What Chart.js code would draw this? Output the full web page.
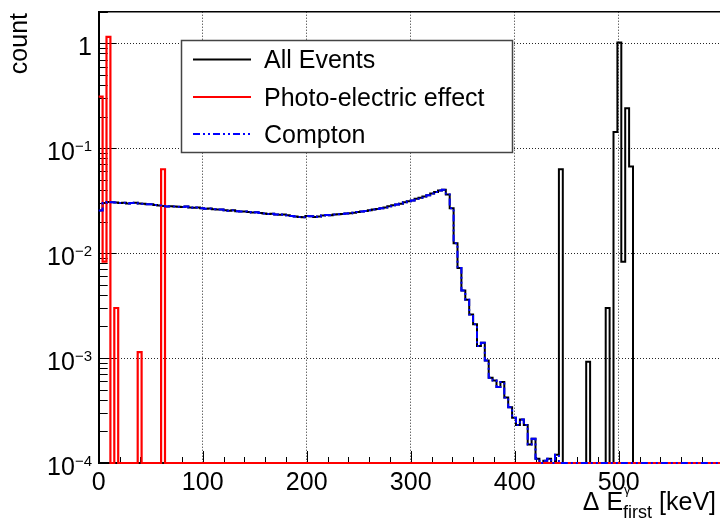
<!DOCTYPE html>
<html>
<head>
<meta charset="utf-8">
<script src="https://cdn.jsdelivr.net/npm/chart.js@4.4.1/dist/chart.umd.min.js"></script>
<style>
    html, body { margin: 0; padding: 0; background: #fff; overflow: hidden; }
    #wrap { position: relative; width: 720px; height: 521px; }
</style>
</head>
<body>
<div id="wrap"><canvas id="histChart"></canvas></div>
<script>
// binning of the histogram (keV)
const binWidth = 3.75;
const nBins = 160;

// Compton part, per bin from 0 keV (bins after the list are empty)
const comptonCounts = [
    0.0255, 0.0300, 0.0308, 0.0306, 0.0304, 0.0301, 0.0303, 0.0298, 0.0300, 0.0302,
    0.0297, 0.0295, 0.0292, 0.0293, 0.0288, 0.0285, 0.0282, 0.0279, 0.0280, 0.0279,
    0.0277, 0.0276, 0.0278, 0.0273, 0.0271, 0.0272, 0.0268, 0.0265, 0.0266, 0.0262,
    0.0260, 0.0261, 0.0257, 0.0254, 0.0256, 0.0251, 0.0249, 0.0250, 0.0246, 0.0244,
    0.0245, 0.0241, 0.0239, 0.0236, 0.0237, 0.0234, 0.0232, 0.0233, 0.0230, 0.0226,
    0.0224, 0.0221, 0.0220, 0.0226, 0.0225, 0.0221, 0.0224, 0.0228, 0.0231, 0.0230,
    0.0233, 0.0235, 0.0236, 0.0239, 0.0240, 0.0243, 0.0247, 0.0250, 0.0252, 0.0256,
    0.0260, 0.0264, 0.0268, 0.0272, 0.0280, 0.0286, 0.0291, 0.0296, 0.0305, 0.0313,
    0.0318, 0.0330, 0.0338, 0.0346, 0.0356, 0.0370, 0.0382, 0.0396, 0.0402, 0.0362,
    0.0268, 0.0124, 0.0072, 0.0044, 0.0036, 0.0026, 0.0021, 0.0013, 0.0014, 0.00095,
    0.00065, 0.00061, 0.00053, 0.00059, 0.00042, 0.00034, 0.00027, 0.00023, 0.00026, 0.00023,
    0.00015, 0.00017, 0.00011, 0, 0.000105, 0.00011, 0, 0.00012
];

// photo-electric peaks (bin index, count)
const photoBins = [0, 1, 2, 4, 10, 16];
const photoCounts = [0.31, 0.0083, 1.15, 0.0030, 0.00114, 0.063];

// extra peaks only in "All Events" (bin index, count)
const otherBins = [118, 125, 130, 132, 133, 134, 135, 136];
const otherCounts = [0.063, 0.00092, 0.0030, 0.143, 1.02, 0.0083, 0.24, 0.067];

const xTicks = [0, 100, 200, 300, 400, 500];
const yDecades = [-4, -3, -2, -1, 0];

const xMax = 597.4;
const yMin = 1e-4;
const yMax = 2;

// build full per-bin lists
const photoAll = new Array(nBins).fill(0);
photoBins.forEach((b, i) => { photoAll[b] = photoCounts[i]; });
const comptonAll = new Array(nBins).fill(0);
comptonCounts.forEach((v, i) => { comptonAll[i] = v; });
const allEvents = comptonAll.slice();
otherBins.forEach((b, i) => { allEvents[b] = otherCounts[i]; });

// step outline points, empty bins sit on the floor like ROOT does
function histPoints(counts) {
    const pts = [];
    for (let i = 0; i < nBins; i++) {
        const v = counts[i] > yMin ? counts[i] : yMin;
        pts.push({ x: i * binWidth, y: v });
    }
    pts.push({ x: nBins * binWidth, y: pts[pts.length - 1].y });
    return pts;
}

const FONT = '"Liberation Sans", Arial, Helvetica, sans-serif';

const rootDecor = {
    id: 'rootDecor',
    beforeDatasetsDraw(chart) {
        const ctx = chart.ctx;
        const area = chart.chartArea;
        const xs = chart.scales.x;
        const ys = chart.scales.y;
        ctx.save();
        ctx.strokeStyle = '#000';
        ctx.lineWidth = 1;
        ctx.beginPath();
        // x ticks, pointing inward
        for (let v = 0; v <= xMax; v += 20) {
            const px = Math.round(xs.getPixelForValue(v)) + 0.5;
            const len = (v % 100 === 0) ? 12 : 6;
            ctx.moveTo(px, area.bottom);
            ctx.lineTo(px, area.bottom - len);
        }
        // y ticks on log axis
        for (let k = -4; k <= 0; k++) {
            for (let m = 1; m <= 9; m++) {
                const v = m * Math.pow(10, k);
                if (v < yMin || v > yMax) continue;
                const py = Math.round(ys.getPixelForValue(v)) + 0.5;
                const len = (m === 1) ? 18 : 9;
                ctx.moveTo(area.left, py);
                ctx.lineTo(area.left + len, py);
            }
        }
        const py2 = Math.round(ys.getPixelForValue(2)) + 0.5;
        ctx.moveTo(area.left, py2);
        ctx.lineTo(area.left + 9, py2);
        ctx.stroke();
        // top frame
        ctx.lineWidth = 1.5;
        ctx.beginPath();
        ctx.moveTo(area.left, area.top);
        ctx.lineTo(area.right, area.top);
        ctx.stroke();
        ctx.restore();
    },
    afterDraw(chart) {
        const ctx = chart.ctx;
        const xs = chart.scales.x;
        const ys = chart.scales.y;
        ctx.save();
        ctx.fillStyle = '#000';

        // x tick labels
        ctx.font = '25px ' + FONT;
        ctx.textAlign = 'center';
        ctx.textBaseline = 'alphabetic';
        xTicks.forEach(v => {
            ctx.fillText(String(v), xs.getPixelForValue(v), 490);
        });

        // y tick labels 10^k
        ctx.textAlign = 'right';
        const labelRight = 92;
        yDecades.forEach(k => {
            const py = ys.getPixelForValue(Math.pow(10, k));
            if (k === 0) {
                ctx.font = '25px ' + FONT;
                ctx.fillText('1', labelRight, py + 12);
                return;
            }
            const sup = '\u2212' + Math.abs(k);
            ctx.font = '15px ' + FONT;
            const supW = ctx.measureText(sup).width;
            ctx.fillText(sup, labelRight, py + 2.5);
            ctx.font = '25px ' + FONT;
            ctx.fillText('10', labelRight - supW, py + 12);
        });

        // y title
        ctx.save();
        ctx.translate(27, 13);
        ctx.rotate(-Math.PI / 2);
        ctx.font = '25px ' + FONT;
        ctx.textAlign = 'right';
        ctx.fillText('count', 0, 0);
        ctx.restore();

        // x title: Δ E^γ_first [keV], right aligned
        ctx.textAlign = 'left';
        ctx.font = '25px ' + FONT;
        const partA = '\u0394 E';
        const partC = ' [keV]';
        const wA = ctx.measureText(partA).width;
        const wC = ctx.measureText(partC).width;
        ctx.font = '18px ' + FONT;
        const wSub = ctx.measureText('first').width;
        const x0 = 716 - (wA + wSub + wC);
        ctx.font = '25px ' + FONT;
        ctx.fillText(partA, x0, 510);
        ctx.font = '13px ' + FONT;
        ctx.fillText('\u03B3', x0 + wA + 1, 494);
        ctx.font = '18px ' + FONT;
        ctx.fillText('first', x0 + wA, 518);
        ctx.font = '25px ' + FONT;
        ctx.fillText(partC, x0 + wA + wSub, 510);

        // legend box
        const box = { l: 181.5, t: 40.5, r: 512.5, b: 152.5 };
        ctx.fillStyle = '#fff';
        ctx.fillRect(box.l, box.t, box.r - box.l, box.b - box.t);
        ctx.strokeStyle = '#444';
        ctx.lineWidth = 1.5;
        ctx.strokeRect(box.l, box.t, box.r - box.l, box.b - box.t);
        const rows = [59.5, 97, 134];
        chart.data.datasets.forEach((ds, i) => {
            const y = rows[i];
            ctx.strokeStyle = ds.borderColor;
            ctx.lineWidth = 2;
            ctx.setLineDash(ds.borderDash || []);
            ctx.beginPath();
            ctx.moveTo(193, y);
            ctx.lineTo(251, y);
            ctx.stroke();
            ctx.setLineDash([]);
            ctx.fillStyle = '#000';
            ctx.font = '25px ' + FONT;
            ctx.textAlign = 'left';
            ctx.fillText(ds.label, 264, y + 8.5);
        });
        ctx.restore();
    }
};

const ctxHist = document.getElementById('histChart').getContext('2d');
const histChart = new Chart(ctxHist, {
    type: 'line',
    data: {
        datasets: [{
            label: 'All Events',
            data: histPoints(allEvents),
            borderColor: '#000000',
            borderWidth: 2,
            stepped: true,
            pointRadius: 0,
            fill: false,
            order: 3,
            clip: { left: 2, top: 2, right: 0, bottom: 2 }
        }, {
            label: 'Photo-electric effect',
            data: histPoints(photoAll),
            borderColor: '#ff0000',
            borderWidth: 2.2,
            stepped: true,
            pointRadius: 0,
            fill: false,
            order: 2,
            clip: { left: 2, top: 2, right: 0, bottom: 2 }
        }, {
            label: 'Compton',
            data: histPoints(comptonAll),
            borderColor: '#0000ff',
            borderWidth: 2,
            borderDash: [7, 3, 2, 3, 2, 3],
            stepped: true,
            pointRadius: 0,
            fill: false,
            order: 1,
            clip: { left: 2, top: 2, right: 0, bottom: 2 }
        }]
    },
    options: {
        responsive: true,
        maintainAspectRatio: false,
        animation: false,
        devicePixelRatio: 1,
        layout: {
            padding: { left: 98.7, top: 11.7, right: 0, bottom: 58 }
        },
        scales: {
            x: {
                type: 'linear',
                min: 0,
                max: xMax,
                afterBuildTicks: function (scale) {
                    scale.ticks = xTicks.map(v => ({ value: v }));
                },
                afterFit: function (scale) { scale.height = 0; },
                ticks: { display: false },
                grid: { color: 'rgba(0,0,0,0.85)', lineWidth: 1, drawTicks: false },
                border: { display: true, color: '#000', width: 2, dash: [1, 2] }
            },
            y: {
                type: 'logarithmic',
                min: yMin,
                max: yMax,
                afterBuildTicks: function (scale) {
                    scale.ticks = yDecades.map(k => ({ value: Math.pow(10, k) }));
                },
                afterFit: function (scale) { scale.width = 0; },
                ticks: { display: false },
                grid: { color: 'rgba(0,0,0,0.85)', lineWidth: 1, drawTicks: false },
                border: { display: true, color: '#000', width: 2, dash: [1, 2] }
            }
        },
        plugins: {
            legend: { display: false },
            tooltip: { enabled: false }
        }
    },
    plugins: [rootDecor]
});
</script>
</body>
</html>
